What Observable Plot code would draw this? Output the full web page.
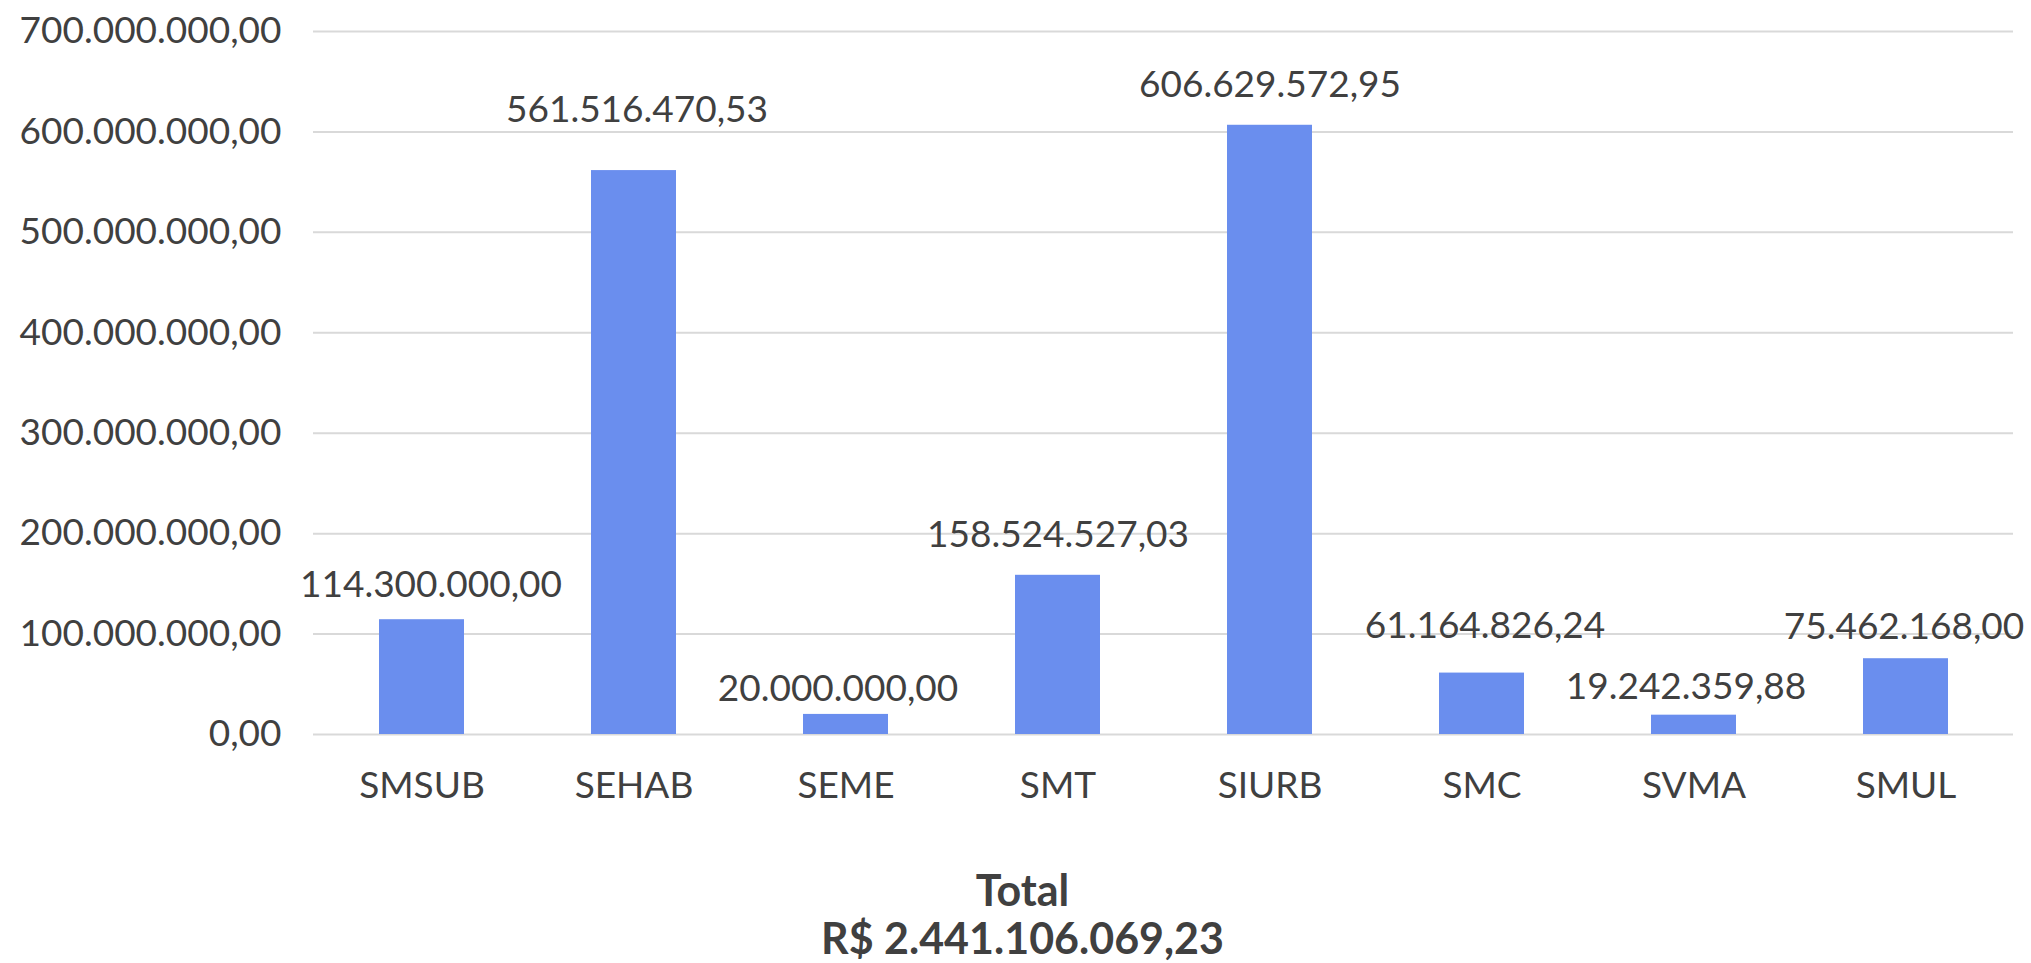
<!DOCTYPE html>
<html>
<head>
<meta charset="utf-8">
<script src="https://cdn.jsdelivr.net/npm/d3@7"></script>
<script src="https://cdn.jsdelivr.net/npm/@observablehq/plot@0.6"></script>
<style>
  html, body { margin: 0; padding: 0; background: #ffffff; }
  #wrap { position: relative; width: 2031px; height: 963px; overflow: hidden; background: #ffffff; }
  #title { position: absolute; left: 7px; top: 866px; width: 2031px; text-align: center;
           font-family: Lato, "Open Sans", sans-serif; font-weight: bold; font-size: 43px;
           line-height: 48px; color: #404040; }
</style>
</head>
<body>
<div id="wrap"><div id="chart"></div><div id="title"></div></div>
<script>
// ---- data ----
const categories = ["SMSUB", "SEHAB", "SEME", "SMT", "SIURB", "SMC", "SVMA", "SMUL"];
const values = [114300000.00, 561516470.53, 20000000.00, 158524527.03, 606629572.95, 61164826.24, 19242359.88, 75462168.00];
const yTicks = [0, 100000000, 200000000, 300000000, 400000000, 500000000, 600000000, 700000000];
const titleLines = ["Total", "R$ 2.441.106.069,23"];

// ---- layout (label placement as in the reference, pixels) ----
const labelGap = [23, 49, 13, 28, 28, 35, 16, 20];
const labelShift = [9, 3, -8, 0, 0, 3, -8, -2];

const fmt = d3.formatLocale({decimal: ",", thousands: ".", grouping: [3], currency: ["R$ ", ""]}).format(",.2f");
const data = categories.map((c, i) => ({category: c, value: values[i]}));

const chart = Plot.plot({
  width: 2031,
  height: 834,
  marginTop: 31,
  marginBottom: 100,
  marginLeft: 313,
  marginRight: 18,
  style: {fontFamily: "Lato, 'Open Sans', sans-serif", fontSize: "37px", color: "#404040", background: "#ffffff", overflow: "visible"},
  x: {domain: categories, paddingInner: 0.6, paddingOuter: 0.3, label: null, tickSize: 0, tickPadding: 37},
  y: {domain: [0, 700000000], ticks: yTicks, tickFormat: fmt, label: null, tickSize: 0, tickPadding: 32},
  marks: [
    Plot.ruleY(yTicks, {stroke: "#d9d9d9", strokeWidth: 2}),
    Plot.barY(data, {x: "category", y: "value", fill: "#6a8eee"}),
    ...data.map((d, i) => Plot.text([d], {
      x: "category", y: "value", text: (e) => fmt(e.value),
      lineAnchor: "bottom", dy: -labelGap[i], dx: labelShift[i],
      fontSize: 37, fill: "#404040"
    }))
  ]
});
document.getElementById("chart").appendChild(chart);
document.getElementById("title").innerHTML = titleLines.join("<br>");
</script>
</body>
</html>
